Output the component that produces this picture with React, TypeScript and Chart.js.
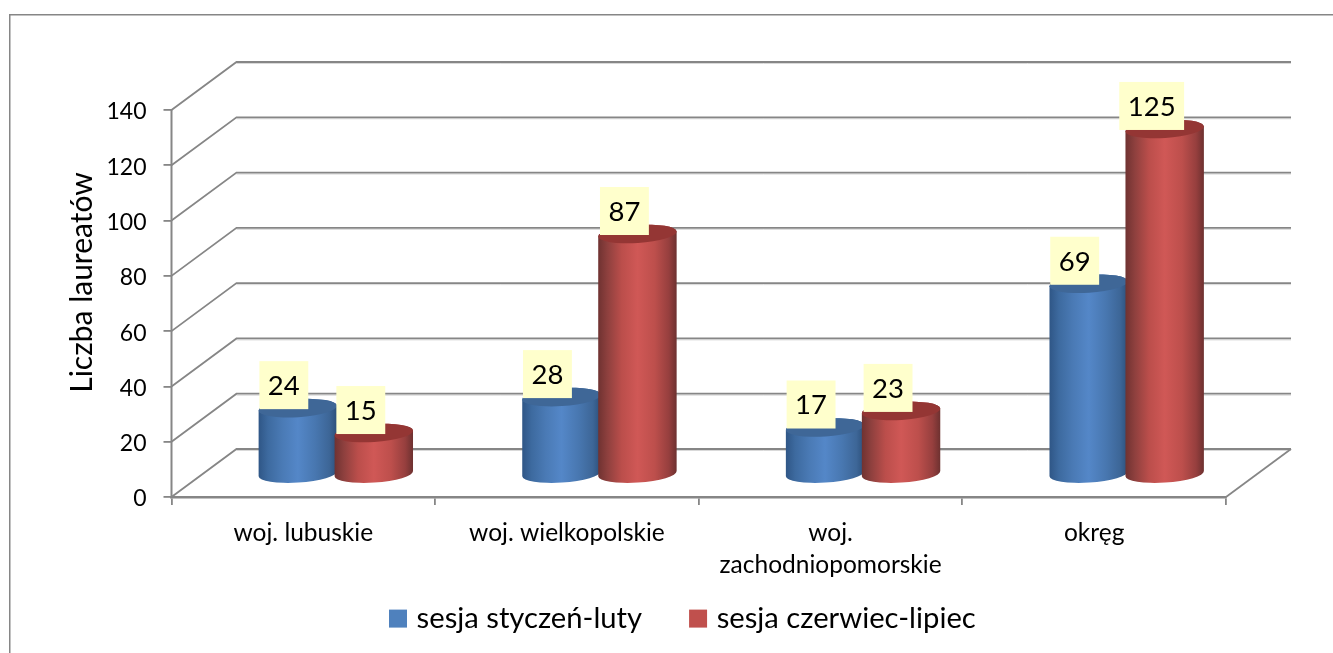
import React, { useEffect, useRef } from "react";
import { Chart, registerables } from "chart.js";

Chart.register(...registerables);

const categories = ["woj. lubuskie", "woj. wielkopolskie", ["woj.", "zachodniopomorskie"], "okręg"];
const seriesNames = ["sesja styczeń-luty", "sesja czerwiec-lipiec"];
const januaryValues = [24, 28, 17, 69];
const juneValues = [15, 87, 23, 125];
const axisTitle = "Liczba laureatów";

const FONT = "Lato, Carlito, Calibri, sans-serif";
const GRID = "#868686";
const DEPTH_X = 65;
const DEPTH_Y = 48;

const sideStops = [
  [[0, "#2f5686"], [0.12, "#3d6a9f"], [0.3, "#4a7ab5"], [0.5, "#5487c8"], [0.72, "#4877b0"], [0.9, "#3d6697"], [1, "#2c4f7a"]],
  [[0, "#6f3231"], [0.12, "#8e403e"], [0.3, "#bb4e4b"], [0.5, "#d05856"], [0.72, "#bd4f4c"], [0.9, "#963f3e"], [1, "#6d3130"]],
];
const topColors = ["#3f6797", "#943634"];

const chart3dPlugin = {
  id: "chart3d",
  afterLayout(chart: any) {
    const y = chart.scales.y;
    // centre the rotated axis title on the visible wall
    y.top -= 21;
    y.bottom -= 21;
    // the second line of the category labels must not be clipped
    chart.scales.x.bottom = chart.height;
    const legend = chart.legend;
    const pad = legend.options.labels.padding;
    legend.left = 394 - pad;
    legend.right = 1333;
    legend.top = 604 - pad;
  },
  beforeDraw(chart: any) {
    const { ctx, width, height } = chart;
    ctx.save();
    ctx.strokeStyle = GRID;
    ctx.lineWidth = 1.5;
    ctx.beginPath();
    ctx.moveTo(9.75, height);
    ctx.lineTo(9.75, 14.75);
    ctx.lineTo(width, 14.75);
    ctx.stroke();
    ctx.restore();
  },
  beforeDatasetsDraw(chart: any) {
    const { ctx, chartArea } = chart;
    const y = chart.scales.y;
    const { left, right, bottom } = chartArea;
    ctx.save();
    ctx.lineCap = "butt";
    y.ticks.forEach((t: any) => {
      const py = y.getPixelForValue(t.value);
      ctx.strokeStyle = "#d9d9d9";
      ctx.lineWidth = 1;
      ctx.beginPath();
      ctx.moveTo(left + DEPTH_X, py - DEPTH_Y + 1.5);
      ctx.lineTo(right + DEPTH_X, py - DEPTH_Y + 1.5);
      ctx.stroke();
      ctx.strokeStyle = GRID;
      ctx.lineWidth = 1.8;
      ctx.beginPath();
      ctx.moveTo(left, py);
      ctx.lineTo(left + DEPTH_X, py - DEPTH_Y);
      ctx.lineTo(right + DEPTH_X, py - DEPTH_Y);
      ctx.stroke();
    });
    ctx.beginPath();
    ctx.moveTo(right, bottom);
    ctx.lineTo(right + DEPTH_X, bottom - DEPTH_Y);
    ctx.stroke();
    // value axis line
    ctx.lineWidth = 2;
    ctx.beginPath();
    ctx.moveTo(left, y.getPixelForValue(y.max));
    ctx.lineTo(left, y.getPixelForValue(y.min));
    ctx.stroke();

    // cylinders, drawn from the positions of the Chart.js bar elements
    const shiftX = [33, 32];
    const shiftY = -22.5;
    const ry = 9;
    const rot = (-3.7 * Math.PI) / 180;
    const n = chart.data.labels.length;
    for (let i = 0; i < n; i++) {
      chart.data.datasets.forEach((_: any, d: number) => {
        const bar = chart.getDatasetMeta(d).data[i];
        const cx = bar.x + shiftX[d];
        const rx = bar.width / 2 + 0.8;
        const topY = bar.y + shiftY;
        const botY = bar.base + shiftY;
        const g = ctx.createLinearGradient(cx - rx, 0, cx + rx, 0);
        sideStops[d].forEach(([o, c]: any) => g.addColorStop(o, c));
        ctx.fillStyle = g;
        ctx.beginPath();
        ctx.ellipse(cx, botY, rx, ry, rot, 0, Math.PI, false);
        ctx.ellipse(cx, topY, rx, ry, rot, Math.PI, Math.PI * 2, false);
        ctx.closePath();
        ctx.fill();
        ctx.fillStyle = topColors[d];
        ctx.beginPath();
        ctx.ellipse(cx, topY, rx, ry, rot, 0, Math.PI * 2);
        ctx.fill();
      });
    }

    // value labels
    ctx.font = `27.5px ${FONT}`;
    ctx.textAlign = "center";
    ctx.textBaseline = "middle";
    chart.data.datasets.forEach((ds: any, d: number) => {
      chart.getDatasetMeta(d).data.forEach((bar: any, i: number) => {
        const txt = String(ds.data[i]);
        const w = ctx.measureText(txt).width + 17;
        const cx = bar.x + 32 - 13;
        const top = bar.y + shiftY - 47;
        ctx.fillStyle = "#ffffcc";
        ctx.fillRect(cx - w / 2, top, w, 48);
        ctx.fillStyle = "#000";
        ctx.fillText(txt, cx, top + 25);
      });
    });
    ctx.restore();
    return false;
  },
};

export default function App() {
  const ref = useRef<HTMLCanvasElement | null>(null);
  useEffect(() => {
    if (!ref.current) return;
    const chart = new Chart(ref.current, {
      type: "bar",
      data: {
        labels: categories as any,
        datasets: [
          { label: seriesNames[0], data: januaryValues, backgroundColor: "#4f81bd", borderColor: "#4f81bd", borderWidth: 10 },
          { label: seriesNames[1], data: juneValues, backgroundColor: "#c0504d", borderColor: "#c0504d", borderWidth: 10 },
        ],
      },
      plugins: [chart3dPlugin as any],
      options: {
        responsive: false,
        animation: false,
        layout: { padding: { top: 110, right: 107, left: 0, bottom: 0 } },
        datasets: { bar: { categoryPercentage: 0.584, barPercentage: 1 } },
        plugins: {
          tooltip: { enabled: false },
          title: { display: false },
          legend: {
            display: true,
            position: "bottom",
            align: "start",
            labels: {
              boxWidth: 8,
              boxHeight: 8,
              padding: 52,
              color: "#000",
              font: { family: FONT, size: 29.2 },
            },
          },
        },
        scales: {
          x: {
            afterFit(s: any) {
              s.height = 156 - s.chart.legend.height;
            },
            grid: { display: true, drawOnChartArea: false, drawTicks: true, tickLength: 8, color: GRID, lineWidth: 1.8 },
            border: { display: true, color: GRID, width: 2.4 },
            ticks: { color: "#000", font: { family: FONT, size: 24.5, lineHeight: 1.3 }, padding: 12.5, maxRotation: 0, autoSkip: false },
          },
          y: {
            min: 0,
            max: 140,
            afterFit(s: any) {
              s.width = 171.5;
            },
            grid: { display: true, drawOnChartArea: false, drawTicks: true, tickLength: 8, color: GRID, lineWidth: 1.8 },
            border: { display: false },
            ticks: { stepSize: 20, color: "#000", font: { family: FONT, size: 23 }, padding: 17, labelOffset: 2 },
            title: { display: true, text: axisTitle, color: "#000", font: { family: FONT, size: 30 }, padding: { top: 64, bottom: 0 } },
          },
        },
      },
    });
    return () => chart.destroy();
  }, []);
  return (
    <div style={{ position: "fixed", left: 0, top: 0, width: 1333, height: 653, background: "#fff" }}>
      <canvas ref={ref} width={1333} height={653} style={{ display: "block" }} />
    </div>
  );
}
